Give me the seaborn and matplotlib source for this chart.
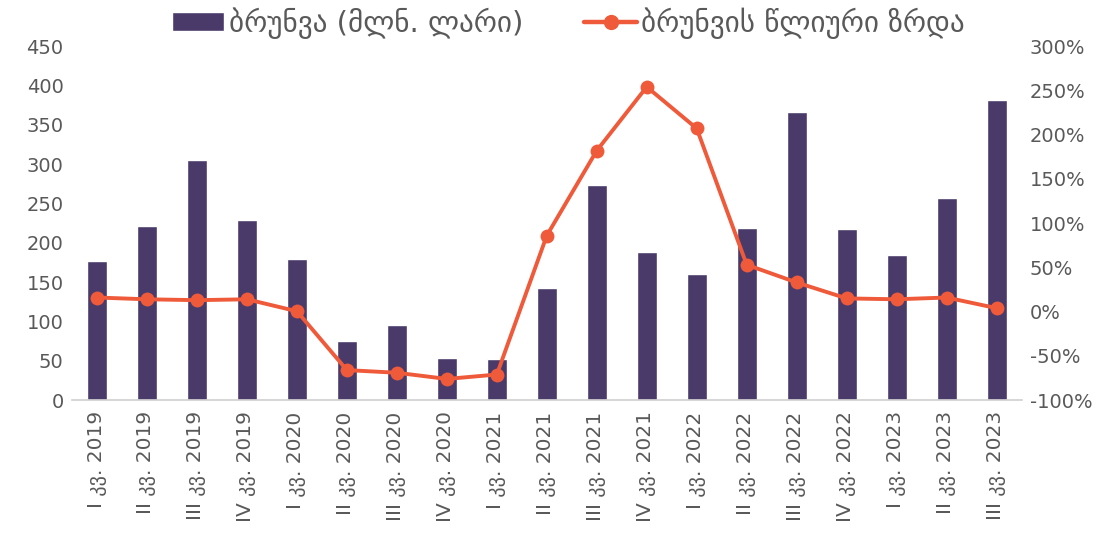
import numpy as np
import pandas as pd
import matplotlib
matplotlib.use("Agg")
import matplotlib.pyplot as plt
import seaborn as sns
from matplotlib.ticker import FuncFormatter
from matplotlib.patches import Patch
from matplotlib.lines import Line2D

# მონაცემები
kvartalebi = ["I კვ. 2019", "II კვ. 2019", "III კვ. 2019", "IV კვ. 2019",
              "I კვ. 2020", "II კვ. 2020", "III კვ. 2020", "IV კვ. 2020",
              "I კვ. 2021", "II კვ. 2021", "III კვ. 2021", "IV კვ. 2021",
              "I კვ. 2022", "II კვ. 2022", "III კვ. 2022", "IV კვ. 2022",
              "I კვ. 2023", "II კვ. 2023", "III კვ. 2023"]
brunva = [177, 221, 305, 229, 180, 75, 96, 53, 52, 142, 273, 188,
          161, 219, 366, 217, 184, 257, 381]
zrda = [16, 14, 13, 14, 0.5, -66, -69, -76, -71, 86, 182, 254,
        207, 53, 33, 15, 14, 16, 4]

lbl_bar = "ბრუნვა (მლნ. ლარი)"
lbl_line = "ბრუნვის წლიური ზრდა"

bar_color = "#4A3A69"
line_color = "#EF5A3A"
txt_color = "#595959"

df = pd.DataFrame({"kv": kvartalebi, "brunva": brunva, "zrda": zrda})

sns.set_style("white")
# DejaVu Sans ერთადერთია, რომელსაც ქართული ასოები აქვს
plt.rcParams["font.family"] = ["DejaVu Sans"]

fig, ax = plt.subplots(figsize=(11.08, 5.43), dpi=100)
fig.subplots_adjust(left=0.065, right=0.922, bottom=0.263, top=0.915)

sns.barplot(data=df, x="kv", y="brunva", color=bar_color, width=0.4,
            saturation=1, ax=ax)
ax.set_ylim(0, 450)
ax.set_yticks(np.arange(0, 451, 50))
ax.set_xlim(-0.5, len(kvartalebi) - 0.5)
ax.set_xlabel("")
ax.set_ylabel("")

ax2 = ax.twinx()
sns.lineplot(x=np.arange(len(zrda)), y=df["zrda"], color=line_color,
             linewidth=2.8, marker="o", markersize=10, markeredgewidth=0,
             ax=ax2)
ax2.set_ylim(-100, 300)
ax2.set_yticks(np.arange(-100, 301, 50))
ax2.yaxis.set_major_formatter(FuncFormatter(lambda v, p: f"{v:.0f}%"))
ax2.set_ylabel("")

for a in (ax, ax2):
    for s in a.spines.values():
        s.set_visible(False)
    a.tick_params(axis="both", length=0, labelsize=14, colors=txt_color)
ax.spines["bottom"].set_visible(True)
ax.spines["bottom"].set_color("#D0D0D0")
ax.spines["bottom"].set_linewidth(1.2)
ax.tick_params(axis="x", rotation=90, labelsize=14.5, pad=8)
ax.tick_params(axis="y", pad=6)
ax2.tick_params(axis="y", pad=6)

handles = [Patch(facecolor=bar_color, label=lbl_bar),
           Line2D([0], [0], color=line_color, lw=3.2, marker="o",
                  markersize=11, markeredgewidth=0, label=lbl_line)]
fig.legend(handles=handles, loc="center", bbox_to_anchor=(0.513, 0.958),
           ncol=2, frameon=False, fontsize=21, handlelength=1.8,
           handleheight=0.6, columnspacing=2.1, handletextpad=0.15,
           labelcolor=txt_color)

fig.savefig("out.png", dpi=100)
